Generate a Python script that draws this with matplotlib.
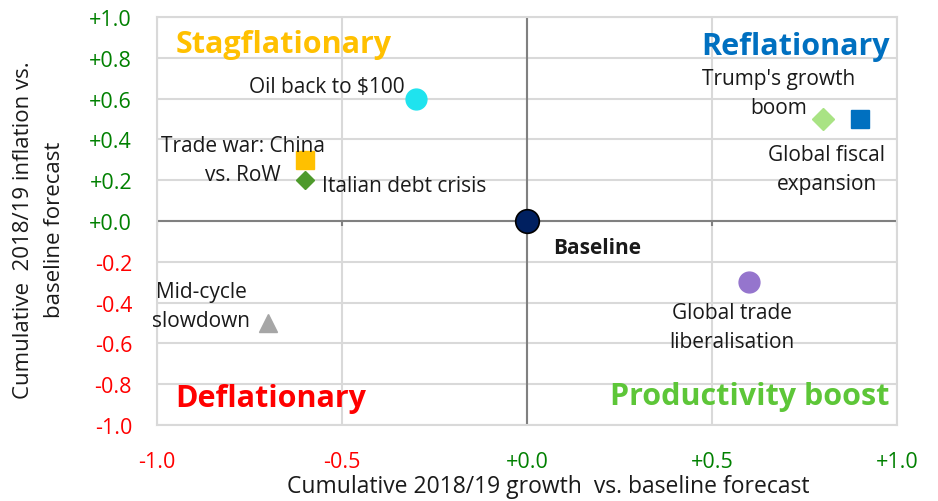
import matplotlib
matplotlib.use("Agg")
import matplotlib.pyplot as plt
import numpy as np

# Scenario data: growth (x) vs inflation (y), cumulative 2018/19 vs baseline
SCENARIOS = ["Oil back to $100", "Trade war: China\nvs. RoW", "Italian debt crisis",
             "Trump's growth\nboom", "Global fiscal\nexpansion", "Baseline",
             "Global trade\nliberalisation", "Mid-cycle\nslowdown"]
GROWTH = [-0.3, -0.6, -0.6, 0.8, 0.9, 0.0, 0.6, -0.7]
INFLATION = [0.6, 0.3, 0.2, 0.5, 0.5, 0.0, -0.3, -0.5]

XTICKS = [-1.0, -0.5, 0.0, 0.5, 1.0]
YTICKS = [-1.0, -0.8, -0.6, -0.4, -0.2, 0.0, 0.2, 0.4, 0.6, 0.8, 1.0]

QUADRANTS = ["Stagflationary", "Reflationary", "Deflationary", "Productivity boost"]

# marker styles per scenario
STYLES = [
    dict(marker="o", color="#1FE3EE", ms=15),
    dict(marker="s", color="#FFC000", ms=13),
    dict(marker="D", color="#4E9A2B", ms=9),
    dict(marker="D", color="#A9E384", ms=11),
    dict(marker="s", color="#0070C0", ms=13),
    dict(marker="o", color="#002060", ms=17, mec="black", mew=1.2),
    dict(marker="o", color="#9575CD", ms=15),
    dict(marker="^", color="#A6A6A6", ms=13),
]
# label offsets in points relative to each point, with alignment
LABELS = [
    ((-8, 9), "right", "center", "normal"),
    ((-45, 0), "center", "center", "normal"),
    ((12, -4), "left", "center", "normal"),
    ((-32, 19), "center", "center", "normal"),
    ((-24, -36), "center", "center", "normal"),
    ((19, -19), "left", "center", "bold"),
    ((-12, -32), "center", "center", "normal"),
    ((-48, 12), "center", "center", "normal"),
]
QUAD_POS = [((0.025, 0.935), "left", "#FFC000"), ((0.99, 0.93), "right", "#0070C0"),
            ((0.025, 0.065), "left", "#FF0000"), ((0.99, 0.07), "right", "#5DC638")]


def fmt(v):
    if v < 0:
        return f"{v:.1f}"
    return f"+{v:.1f}"


plt.rcParams["font.family"] = ["Open Sans", "DejaVu Sans"]

fig = plt.figure(figsize=(9.38, 5.02), dpi=100)
L, R, T, B = 157, 897, 18, 426
ax = fig.add_axes([L / 938, 1 - B / 502, (R - L) / 938, (B - T) / 502])

ax.set_xlim(-1, 1)
ax.set_ylim(-1, 1)
ax.set_xticks(XTICKS)
ax.set_yticks(YTICKS)
ax.set_xticklabels([fmt(v) for v in XTICKS])
ax.set_yticklabels([fmt(v) for v in YTICKS])
for lbl, v in zip(ax.get_xticklabels(), XTICKS):
    lbl.set_color("#FF0000" if v < 0 else "#008000")
for lbl, v in zip(ax.get_yticklabels(), YTICKS):
    lbl.set_color("#FF0000" if v < 0 else "#008000")
ax.tick_params(axis="x", length=0, pad=19, labelsize=15.5)
ax.tick_params(axis="y", length=0, pad=18, labelsize=15.5)

ax.grid(True, color="#D9D9D9", linewidth=1.5)
ax.set_axisbelow(True)
for sp in ax.spines.values():
    sp.set_color("#D9D9D9")
    sp.set_linewidth(1.5)
ax.axhline(0, color="#808080", linewidth=1.5, zorder=1)
ax.axvline(0, color="#808080", linewidth=1.5, zorder=1)
ax.vlines([v for v in XTICKS if v != 0], -0.025, 0, color="#808080", linewidth=1.5, zorder=1)

for name, x, y, st, (off, ha, va, fw) in zip(SCENARIOS, GROWTH, INFLATION, STYLES, LABELS):
    st = dict(st)
    ax.plot(x, y, linestyle="none", marker=st.pop("marker"), color=st.pop("color"),
            markersize=st.pop("ms"), zorder=3, **st)
    ax.annotate(name, (x, y), xytext=off, textcoords="offset points", ha=ha, va=va,
                fontsize=15, fontweight=fw, color="#1A1A1A", linespacing=1.5, zorder=4)

for q, ((qx, qy), ha, col) in zip(QUADRANTS, QUAD_POS):
    ax.text(qx, qy, q, transform=ax.transAxes, ha=ha, va="center", color=col,
            fontsize=22, fontweight="bold")

ax.set_xlabel("Cumulative 2018/19 growth  vs. baseline forecast", fontsize=16.5,
              color="#1A1A1A")
ax.xaxis.set_label_coords((548 - L) / (R - L), (B - 487) / (B - T))
ax.xaxis.label.set_va("center")
ax.set_ylabel("Cumulative  2018/19 inflation vs.\nbaseline forecast", fontsize=16,
              color="#1A1A1A", linespacing=1.6)
ax.yaxis.set_label_coords((39 - L) / (R - L), (B - 230) / (B - T))
ax.yaxis.label.set_va("center")

fig.savefig("out.png", dpi=100)
